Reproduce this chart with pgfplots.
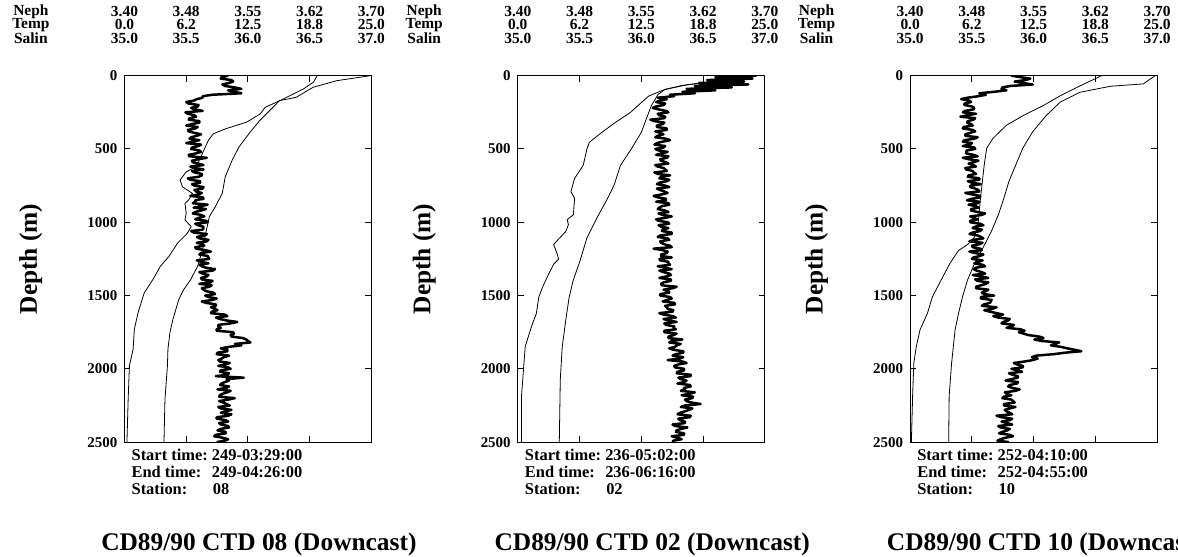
\documentclass[border=0pt]{standalone}
\usepackage{pgfplots}
\pgfplotsset{compat=1.18}
\usepackage{pgfplotstable}
\usepackage{fontspec}
\setmainfont{Liberation Serif}
\newcommand\smallfont{\fontsize{15.5}{13.5}\selectfont\bfseries}
\newcommand\infofont{\fontsize{16.5}{17}\selectfont\bfseries}
\newcommand\bigfont{\fontsize{25.5}{30}\selectfont\bfseries}

% ---------- Panel 1 (CTD 08) ----------
\pgfplotstableread{
d t
0 24.9
34 21.5
79 19.1
147 17.4
170 15.7
238 14.7
305 13.7
396 12.6
486 11.6
577 10.9
690 10.2
803 9.9
893 9.2
961 8.6
1052 8.3
1188 7.9
1301 7.4
1391 6.7
1459 6.0
1527 5.5
1663 4.9
1753 4.6
1866 4.4
1979 4.35
2205 4.1
2500 4.0
}\tempA
\pgfplotstableread{
d s
0 36.56
45 36.53
90 36.45
136 36.34
170 36.26
215 36.14
260 36.10
317 35.99
362 35.82
396 35.72
441 35.68
532 35.63
622 35.58
656 35.50
712 35.45
758 35.47
803 35.55
848 35.52
871 35.49
939 35.50
984 35.49
1029 35.54
1074 35.51
1142 35.43
1233 35.36
1301 35.29
1391 35.23
1482 35.16
1617 35.11
1730 35.08
1866 35.07
1979 35.04
2205 35.03
2500 35.02
}\salA
\pgfplotstableread{
d n
0 3.526
10 3.518
20 3.517
30 3.530
40 3.532
50 3.527
60 3.519
70 3.522
80 3.534
90 3.542
100 3.526
110 3.533
120 3.542
130 3.507
140 3.495
150 3.495
160 3.488
170 3.484
180 3.475
190 3.478
200 3.490
210 3.489
220 3.481
230 3.486
240 3.495
250 3.474
260 3.477
270 3.485
280 3.487
290 3.479
300 3.478
310 3.491
320 3.491
330 3.482
340 3.475
350 3.489
360 3.486
370 3.477
380 3.478
390 3.485
400 3.493
410 3.488
420 3.481
430 3.479
440 3.491
450 3.483
460 3.475
470 3.493
480 3.490
490 3.482
500 3.481
510 3.491
520 3.493
530 3.487
540 3.478
550 3.479
560 3.500
570 3.490
580 3.482
590 3.483
600 3.490
610 3.496
620 3.480
630 3.486
640 3.496
650 3.482
660 3.485
670 3.494
680 3.494
690 3.490
700 3.477
710 3.480
720 3.492
730 3.492
740 3.482
750 3.485
760 3.496
770 3.495
780 3.485
790 3.487
800 3.494
810 3.490
820 3.480
830 3.495
840 3.496
850 3.486
860 3.486
870 3.483
880 3.501
890 3.493
900 3.484
910 3.499
920 3.493
930 3.486
940 3.483
950 3.493
960 3.497
970 3.490
980 3.486
990 3.499
1000 3.501
1010 3.486
1020 3.489
1030 3.496
1040 3.496
1050 3.495
1060 3.481
1070 3.484
1080 3.500
1090 3.498
1100 3.488
1110 3.491
1120 3.502
1130 3.500
1140 3.488
1150 3.495
1160 3.497
1170 3.486
1180 3.487
1190 3.498
1200 3.505
1210 3.493
1220 3.491
1230 3.501
1240 3.502
1250 3.503
1260 3.488
1270 3.493
1280 3.502
1290 3.491
1300 3.494
1310 3.499
1320 3.510
1330 3.507
1340 3.491
1350 3.495
1360 3.502
1370 3.500
1380 3.493
1390 3.494
1400 3.507
1410 3.504
1420 3.491
1430 3.506
1440 3.503
1450 3.494
1460 3.496
1470 3.499
1480 3.508
1490 3.510
1500 3.498
1510 3.502
1520 3.512
1530 3.507
1540 3.494
1550 3.499
1560 3.511
1570 3.511
1580 3.505
1590 3.510
1600 3.513
1610 3.506
1620 3.505
1630 3.522
1640 3.525
1650 3.511
1660 3.516
1670 3.524
1680 3.537
1690 3.529
1700 3.514
1710 3.514
1720 3.517
1730 3.512
1740 3.512
1750 3.532
1760 3.533
1770 3.529
1780 3.530
1790 3.544
1800 3.548
1810 3.550
1820 3.553
1830 3.534
1840 3.542
1850 3.527
1860 3.517
1870 3.525
1880 3.525
1890 3.513
1900 3.512
1910 3.527
1920 3.521
1930 3.518
1940 3.514
1950 3.516
1960 3.528
1970 3.522
1980 3.514
1990 3.526
2000 3.529
2010 3.517
2020 3.516
2030 3.527
2040 3.525
2050 3.511
2060 3.545
2070 3.524
2080 3.527
2090 3.522
2100 3.518
2110 3.516
2120 3.527
2130 3.524
2140 3.513
2150 3.529
2160 3.525
2170 3.519
2180 3.516
2190 3.515
2200 3.534
2210 3.526
2220 3.515
2230 3.520
2240 3.524
2250 3.528
2260 3.514
2270 3.517
2280 3.530
2290 3.523
2300 3.517
2310 3.530
2320 3.526
2330 3.512
2340 3.512
2350 3.523
2360 3.526
2370 3.515
2380 3.517
2390 3.526
2400 3.527
2410 3.517
2420 3.513
2430 3.523
2440 3.523
2450 3.511
2460 3.509
2470 3.519
2480 3.526
2490 3.522
2500 3.512
}\nephA

% ---------- Panel 2 (CTD 02) ----------
\pgfplotstableread{
d t
0 24.0
38 19.95
67 16.6
94 14.9
128 14.2
207 13.5
297 13.0
387 12.5
499 11.5
611 10.4
746 9.75
836 9.1
971 8.0
1106 7.0
1263 6.3
1398 5.6
1511 5.2
1646 4.9
1848 4.5
2073 4.3
2500 4.2
}\tempB
\pgfplotstableread{
d s
0 36.90
16 36.87
38 36.60
61 36.38
94 36.19
139 36.06
184 36.00
252 35.91
319 35.79
387 35.68
454 35.58
499 35.56
611 35.53
701 35.46
791 35.43
836 35.46
949 35.45
982 35.40
1016 35.41
1061 35.39
1151 35.29
1218 35.32
1252 35.33
1286 35.29
1353 35.25
1443 35.20
1511 35.17
1623 35.15
1713 35.11
1848 35.06
1960 35.05
2185 35.03
2500 35.03
}\salB
\pgfplotstableread{
d n
0 3.690
10 3.640
20 3.685
30 3.630
40 3.675
50 3.620
60 3.680
70 3.615
80 3.660
90 3.605
100 3.640
110 3.600
120 3.615
130 3.585
140 3.590
150 3.570
160 3.581
170 3.573
180 3.568
190 3.579
200 3.577
210 3.568
220 3.564
230 3.571
240 3.580
250 3.583
260 3.570
270 3.572
280 3.579
290 3.578
300 3.561
310 3.566
320 3.578
330 3.576
340 3.569
350 3.569
360 3.581
370 3.581
380 3.567
390 3.573
400 3.577
410 3.570
420 3.567
430 3.580
440 3.585
450 3.576
460 3.569
470 3.566
480 3.579
490 3.577
500 3.567
510 3.571
520 3.582
530 3.575
540 3.568
550 3.583
560 3.581
570 3.573
580 3.574
590 3.580
600 3.583
610 3.567
620 3.570
630 3.577
640 3.579
650 3.581
660 3.566
670 3.570
680 3.585
690 3.574
700 3.572
710 3.584
720 3.581
730 3.572
740 3.569
750 3.579
760 3.584
770 3.569
780 3.573
790 3.578
800 3.582
810 3.575
820 3.565
830 3.570
840 3.580
850 3.580
860 3.568
870 3.583
880 3.584
890 3.575
900 3.572
910 3.570
920 3.579
930 3.583
940 3.571
950 3.576
960 3.587
970 3.579
980 3.568
990 3.571
1000 3.582
1010 3.584
1020 3.571
1030 3.574
1040 3.583
1050 3.576
1060 3.575
1070 3.587
1080 3.587
1090 3.573
1100 3.570
1110 3.582
1120 3.584
1130 3.573
1140 3.574
1150 3.578
1160 3.585
1170 3.587
1180 3.565
1190 3.576
1200 3.582
1210 3.581
1220 3.574
1230 3.574
1240 3.587
1250 3.572
1260 3.573
1270 3.583
1280 3.583
1290 3.585
1300 3.570
1310 3.579
1320 3.587
1330 3.572
1340 3.577
1350 3.584
1360 3.586
1370 3.580
1380 3.572
1390 3.586
1400 3.586
1410 3.577
1420 3.574
1430 3.575
1440 3.593
1450 3.588
1460 3.577
1470 3.583
1480 3.584
1490 3.573
1500 3.573
1510 3.585
1520 3.587
1530 3.581
1540 3.576
1550 3.590
1560 3.591
1570 3.579
1580 3.581
1590 3.582
1600 3.589
1610 3.588
1620 3.572
1630 3.577
1640 3.588
1650 3.592
1660 3.577
1670 3.583
1680 3.593
1690 3.578
1700 3.580
1710 3.590
1720 3.589
1730 3.592
1740 3.578
1750 3.578
1760 3.593
1770 3.589
1780 3.583
1790 3.583
1800 3.600
1810 3.587
1820 3.584
1830 3.598
1840 3.593
1850 3.591
1860 3.584
1870 3.589
1880 3.601
1890 3.601
1900 3.592
1910 3.588
1920 3.601
1930 3.597
1940 3.582
1950 3.600
1960 3.605
1970 3.595
1980 3.590
1990 3.591
2000 3.602
2010 3.602
2020 3.594
2030 3.593
2040 3.610
2050 3.610
2060 3.595
2070 3.598
2080 3.605
2090 3.602
2100 3.594
2110 3.609
2120 3.610
2130 3.602
2140 3.603
2150 3.598
2160 3.615
2170 3.609
2180 3.599
2190 3.613
2200 3.612
2210 3.603
2220 3.605
2230 3.611
2240 3.622
2250 3.603
2260 3.598
2270 3.612
2280 3.608
2290 3.603
2300 3.597
2310 3.594
2320 3.610
2330 3.609
2340 3.595
2350 3.597
2360 3.603
2370 3.603
2380 3.588
2390 3.591
2400 3.606
2410 3.598
2420 3.593
2430 3.592
2440 3.602
2450 3.602
2460 3.587
2470 3.594
2480 3.599
2490 3.589
2500 3.588
}\nephB

% ---------- Panel 3 (CTD 10) ----------
\pgfplotstableread{
d t
0 24.8
56 23.6
72 20.3
113 17.2
180 15.2
270 13.8
383 12.4
495 11.4
608 10.7
721 10.0
833 9.5
946 8.95
1058 8.25
1171 7.4
1284 6.5
1396 5.8
1509 5.3
1621 4.9
1734 4.55
1959 4.2
2184 3.95
2500 3.9
}\tempC
\pgfplotstableread{
d s
0 36.55
68 36.38
135 36.22
203 36.08
270 35.92
338 35.78
428 35.67
495 35.62
608 35.60
833 35.57
1013 35.55
1103 35.52
1148 35.47
1194 35.39
1284 35.32
1396 35.25
1509 35.18
1621 35.14
1734 35.08
1847 35.05
1959 35.03
2184 35.02
2500 35.01
}\salC
\pgfplotstableread{
d n
0 3.523
10 3.534
20 3.546
30 3.540
40 3.527
50 3.537
60 3.549
70 3.522
80 3.512
90 3.511
100 3.517
110 3.502
120 3.484
130 3.492
140 3.483
150 3.470
160 3.462
170 3.472
180 3.474
190 3.466
200 3.466
210 3.475
220 3.478
230 3.477
240 3.467
250 3.464
260 3.480
270 3.469
280 3.461
290 3.479
300 3.477
310 3.470
320 3.469
330 3.474
340 3.476
350 3.465
360 3.464
370 3.476
380 3.479
390 3.473
400 3.467
410 3.467
420 3.482
430 3.478
440 3.466
450 3.464
460 3.475
470 3.473
480 3.464
490 3.478
500 3.479
510 3.469
520 3.468
530 3.468
540 3.477
550 3.482
560 3.464
570 3.471
580 3.483
590 3.477
600 3.471
610 3.477
620 3.480
630 3.467
640 3.468
650 3.476
660 3.477
670 3.480
680 3.471
690 3.470
700 3.484
710 3.484
720 3.470
730 3.475
740 3.486
750 3.473
760 3.473
770 3.479
780 3.483
790 3.484
800 3.467
810 3.475
820 3.485
830 3.485
840 3.475
850 3.469
860 3.484
870 3.482
880 3.471
890 3.480
900 3.483
910 3.474
920 3.474
930 3.482
940 3.491
950 3.487
960 3.473
970 3.477
980 3.482
990 3.473
1000 3.473
1010 3.485
1020 3.489
1030 3.479
1040 3.476
1050 3.487
1060 3.485
1070 3.476
1080 3.472
1090 3.482
1100 3.486
1110 3.489
1120 3.477
1130 3.472
1140 3.488
1150 3.484
1160 3.475
1170 3.476
1180 3.485
1190 3.487
1200 3.472
1210 3.479
1220 3.489
1230 3.485
1240 3.477
1250 3.475
1260 3.488
1270 3.483
1280 3.478
1290 3.488
1300 3.491
1310 3.480
1320 3.477
1330 3.481
1340 3.487
1350 3.491
1360 3.476
1370 3.487
1380 3.495
1390 3.479
1400 3.482
1410 3.495
1420 3.492
1430 3.486
1440 3.480
1450 3.480
1460 3.495
1470 3.492
1480 3.487
1490 3.490
1500 3.502
1510 3.486
1520 3.486
1530 3.499
1540 3.498
1550 3.497
1560 3.490
1570 3.487
1580 3.505
1590 3.500
1600 3.490
1610 3.497
1620 3.505
1630 3.513
1640 3.501
1650 3.507
1660 3.521
1670 3.519
1680 3.513
1690 3.511
1700 3.526
1710 3.524
1720 3.517
1730 3.534
1740 3.539
1750 3.532
1760 3.538
1770 3.544
1780 3.557
1790 3.562
1800 3.551
1810 3.560
1820 3.581
1830 3.576
1840 3.571
1850 3.583
1860 3.591
1870 3.600
1880 3.608
1890 3.588
1900 3.574
1910 3.553
1920 3.548
1930 3.555
1940 3.549
1950 3.539
1960 3.526
1970 3.530
1980 3.537
1990 3.537
2000 3.523
2010 3.531
2020 3.536
2030 3.520
2040 3.524
2050 3.531
2060 3.531
2070 3.523
2080 3.516
2090 3.531
2100 3.530
2110 3.521
2120 3.519
2130 3.524
2140 3.533
2150 3.528
2160 3.515
2170 3.517
2180 3.523
2190 3.514
2200 3.512
2210 3.523
2220 3.525
2230 3.527
2240 3.514
2250 3.514
2260 3.528
2270 3.521
2280 3.515
2290 3.517
2300 3.521
2310 3.524
2320 3.505
2330 3.511
2340 3.524
2350 3.521
2360 3.511
2370 3.518
2380 3.524
2390 3.507
2400 3.510
2410 3.521
2420 3.518
2430 3.512
2440 3.508
2450 3.521
2460 3.525
2470 3.516
2480 3.510
2490 3.506
2500 3.520
}\nephC

\newlength\lwA
\newlength\lwB

\pgfplotsset{
  ctd/.style={
    scale only axis, width=248pt, height=368pt,
    anchor=north west,
    xmin=0, xmax=1, ymin=0, ymax=2500, y dir=reverse,
    xtick={0,0.25,0.5,0.75,1},
    xticklabels={{3.40\\0.0\\35.0},{3.48\\6.2\\35.5},{3.55\\12.5\\36.0},{3.62\\18.8\\36.5},{3.70\\25.0\\37.0}},
    xticklabel pos=upper,
    xticklabel style={font=\smallfont, align=center, inner sep=0pt, anchor=south, yshift=32pt},
    ytick={0,500,1000,1500,2000,2500},
    yticklabels={0,500,1000,1500,2000,2500},
    yticklabel style={font=\fontsize{15}{15}\selectfont\bfseries, inner sep=0pt, anchor=east, xshift=-7pt},
    tick pos=both,
    tick align=inside, major tick length=6pt,
    axis line style={line width=1.2pt},
    every tick/.style={line width=1pt, black},
    ylabel={Depth (m)},
    ylabel style={font=\bigfont, at={(axis description cs:-0.379,0.5)}, anchor=center},
    clip mode=individual,
  },
  thinl/.style={black, line width=0.8pt, no marks},
  nephl/.style={black, line width=2.5pt, no marks, line join=round},
}

\newcommand\hdr{\node[font=\smallfont, align=center, inner sep=0pt, anchor=south] at (axis description cs:0,1) [xshift=-94pt, yshift=32pt] {Neph\\Temp\\Salin};}
\newcommand\info[4]{%
  \node[font=\infofont, align=left, inner sep=0pt, anchor=north west]
    at (axis description cs:0,0) [xshift=7pt, yshift=-7pt]
    {\makebox[\lwA][l]{Start time:}#1\\\makebox[\lwA][l]{End time:}#2\\\makebox[\lwB][l]{Station:}#3};
  \node[font=\bigfont, inner sep=0pt, anchor=base] at (axis description cs:0.5,0) [xshift=11pt, yshift=-109pt] {#4};
}

\begin{document}
\settowidth{\lwA}{\infofont Start time:\ }
\setlength{\lwB}{\lwA}\addtolength{\lwB}{1pt}
\begin{tikzpicture}
\useasboundingbox (0,0) rectangle (1178pt,-559pt);

\begin{axis}[ctd, at={(120pt,-76pt)}]
  \addplot[thinl] table[x expr={\thisrow{t}/25}, y=d] {\tempA};
  \addplot[thinl] table[x expr={(\thisrow{s}-35)/2}, y=d] {\salA};
  \addplot[nephl] table[x expr={(\thisrow{n}-3.40)/0.30}, y=d] {\nephA};
  \hdr
  \info{249-03:29:00}{249-04:26:00}{08}{CD89/90 CTD 08 (Downcast)}
\end{axis}

\begin{axis}[ctd, at={(515pt,-76pt)}]
  \addplot[thinl] table[x expr={\thisrow{t}/25}, y=d] {\tempB};
  \addplot[thinl] table[x expr={(\thisrow{s}-35)/2}, y=d] {\salB};
  \addplot[nephl] table[x expr={(\thisrow{n}-3.40)/0.30}, y=d] {\nephB};
  \hdr
  \info{236-05:02:00}{236-06:16:00}{02}{CD89/90 CTD 02 (Downcast)}
\end{axis}

\begin{axis}[ctd, at={(909pt,-76pt)}]
  \addplot[thinl] table[x expr={\thisrow{t}/25}, y=d] {\tempC};
  \addplot[thinl] table[x expr={(\thisrow{s}-35)/2}, y=d] {\salC};
  \addplot[nephl] table[x expr={(\thisrow{n}-3.40)/0.30}, y=d] {\nephC};
  \hdr
  \info{252-04:10:00}{252-04:55:00}{10}{CD89/90 CTD 10 (Downcast)}
\end{axis}
\end{tikzpicture}
\end{document}
